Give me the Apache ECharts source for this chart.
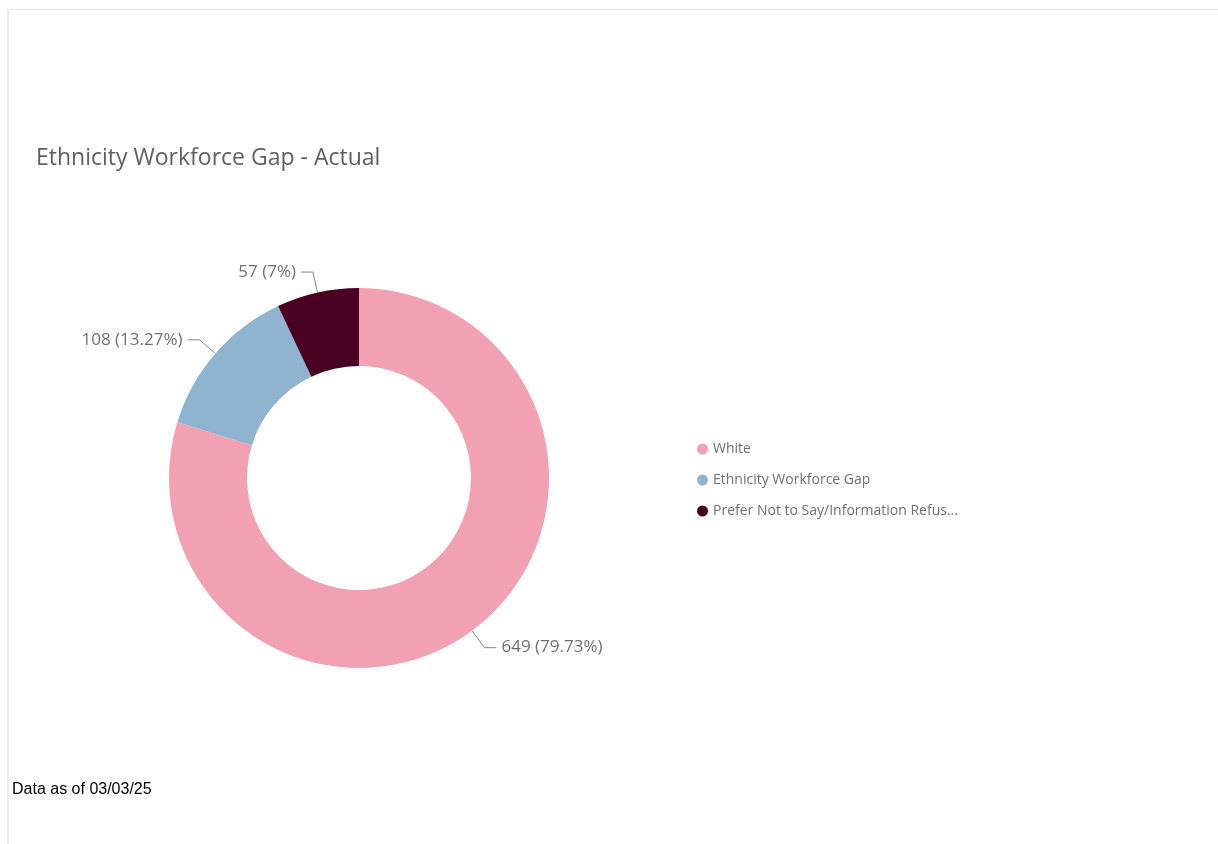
<!DOCTYPE html>
<html>
<head>
<meta charset="utf-8">
<script src="https://cdn.jsdelivr.net/npm/echarts@6/dist/echarts.min.js"></script>
<style>
  html, body { margin: 0; padding: 0; background: #fff; }
  #frame { position: absolute; left: 7px; top: 9px; width: 1211px; height: 835px;
           border-left: 2px solid #ececec; border-top: 1px solid #ececec; }
  #chart { position: absolute; left: 0; top: 0; width: 1218px; height: 844px; }
  #note { position: absolute; left: 12px; top: 780px; font-family: "Liberation Sans", Arial, sans-serif;
          font-size: 16px; color: #000; }
</style>
</head>
<body>
<div id="frame"></div>
<div id="chart"></div>
<div id="note">Data as of 03/03/25</div>
<script>
// Workforce by ethnicity group
const categories = ["White", "Ethnicity Workforce Gap", "Prefer Not to Say/Information Refused"];
const counts = [649, 108, 57];
const colors = ["#F2A0B4", "#8FB4CF", "#4A0020"];

const total = counts.reduce((a, b) => a + b, 0);
const fmtPct = v => {
  const p = Math.round(v / total * 10000) / 100;
  return (Number.isInteger(p) ? p.toString() : p.toFixed(2)) + "%";
};

const chart = echarts.init(document.getElementById("chart"));
chart.setOption({
  animation: false,
  title: {
    text: "Ethnicity Workforce Gap - Actual",
    left: 31, top: 142,
    textStyle: { fontFamily: "Open Sans", fontWeight: "normal", fontSize: 23, color: "#5f5f5f" }
  },
  legend: {
    orient: "vertical",
    left: 692, top: 437,
    itemGap: 17,
    itemWidth: 11, itemHeight: 11,
    icon: "circle",
    textStyle: {
      fontFamily: "Open Sans", fontSize: 14, color: "#707070",
      width: 248, overflow: "truncate", ellipsis: "..."
    },
    data: categories
  },
  series: [{
    type: "pie",
    center: [359, 478],
    radius: [112, 190],
    startAngle: 90,
    clockwise: true,
    avoidLabelOverlap: false,
    data: categories.map((name, i) => ({ name, value: counts[i], itemStyle: { color: colors[i] } })),
    label: {
      show: true,
      position: "outside",
      fontFamily: "Open Sans", fontSize: 17, color: "#707070",
      formatter: p => p.value + " (" + fmtPct(p.value) + ")"
    },
    labelLine: {
      show: true, length: 21, length2: 12,
      lineStyle: { color: "#888", width: 1 }
    },
    emphasis: { disabled: true }
  }]
});
</script>
</body>
</html>
